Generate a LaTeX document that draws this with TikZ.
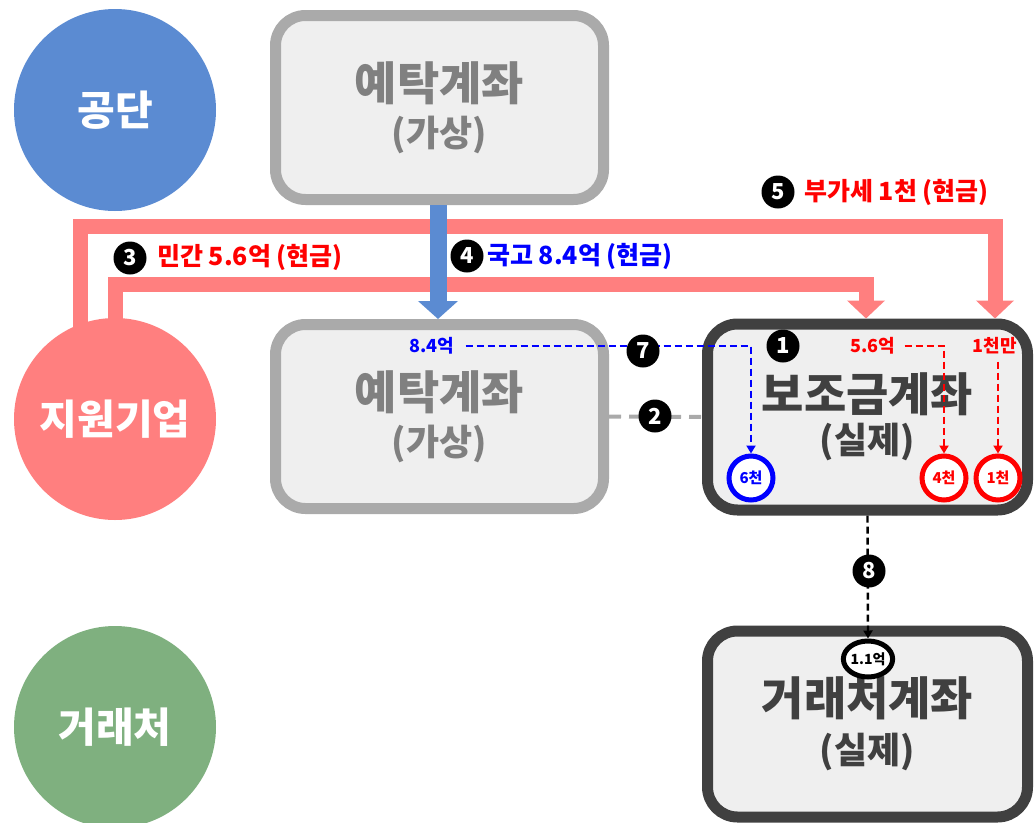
\documentclass[tikz,border=0pt]{standalone}
\usepackage{fontspec}
\setmainfont{Noto Sans CJK KR}[BoldFont={Noto Sans CJK KR Black}]
\usetikzlibrary{arrows.meta,shapes.geometric,calc}
\definecolor{gongdanblue}{RGB}{91,139,210}
\definecolor{jiwonred}{RGB}{255,127,127}
\definecolor{clientgreen}{RGB}{127,176,127}
\definecolor{vborder}{RGB}{170,170,170}
\definecolor{vfill}{RGB}{239,239,239}
\definecolor{vtext}{RGB}{128,128,128}
\definecolor{rdark}{RGB}{64,64,64}
\newcommand{\acctsub}{\fontsize{36}{38}\selectfont\bfseries}

\begin{document}
\begin{tikzpicture}[x=1pt,y=-1pt,
    party/.style={circle,minimum size=202pt,inner sep=0pt,text=white,
        font=\fontsize{41}{44}\selectfont\bfseries},
    vbox/.style={draw=vborder,line width=11pt,fill=vfill,rounded corners=30pt,
        minimum width=328pt,minimum height=184pt,text=vtext,align=center,
        font=\fontsize{46}{52}\selectfont\bfseries},
    rbox/.style={draw=rdark,line width=11pt,fill=vfill,rounded corners=30pt,
        minimum width=320pt,minimum height=186pt,text=rdark,align=center,
        font=\fontsize{46}{52}\selectfont\bfseries},
    badge/.style={circle,fill=black,text=white,minimum size=33pt,inner sep=0pt,
        font=\fontsize{22}{22}\selectfont\bfseries},
    flowlabel/.style={anchor=west,inner sep=0pt,font=\fontsize{25}{26}\selectfont\bfseries},
    amount/.style={inner sep=1pt,font=\fontsize{18}{18}\selectfont\bfseries},
    coin/.style={circle,line width=5pt,fill=white,minimum size=44pt,inner sep=0pt,
        font=\fontsize{15}{15}\selectfont\bfseries},
    cashline/.style={draw=jiwonred,line width=15pt,-{Triangle[width=37pt,length=18pt]}},
    fundline/.style={draw=gongdanblue,line width=17pt,-{Triangle[width=39pt,length=18pt]}},
    trace/.style={line width=2.4pt,dash pattern=on 7pt off 4pt,-{Triangle[width=9pt,length=8pt]}}]

\useasboundingbox (0,0) rectangle (1036,822);

% parties
\node[party,fill=gongdanblue] (gongdan) at (115,110) {공단};
\node[party,fill=jiwonred] (jiwon) at (115,419) {지원기업};
\node[party,fill=clientgreen] (client) at (115,727) {거래처};

% accounts
\node[vbox] (yetakTop) at (439.5,107.5) {\raisebox{-4pt}{예탁계좌}\\[-2pt]{\acctsub(가상)}};
\node[vbox] (yetakMid) at (439.5,416.5) {\raisebox{-4pt}{예탁계좌}\\[-2pt]{\acctsub(가상)}};
\node[rbox] (bojo) at (867.5,417) {\raisebox{-6pt}{보조금계좌}\\[-4pt]{\acctsub(실제)}};
\node[rbox] (clientAcc) at (867.5,724) {거래처계좌\\[-4pt]{\acctsub(실제)}};

% cash flows
\coordinate (vatTurn) at (995,226);
\coordinate (privTurn) at (866,284);
\coordinate (govLane) at (438,0);
\draw[cashline] ($(jiwon.110)+(0,6)$) |- (vatTurn) -- (vatTurn |- bojo.north);
\draw[cashline] ($(jiwon.north)+(0,6)$) |- (privTurn) -- (privTurn |- bojo.north);
\draw[fundline] (yetakTop.south -| govLane) -- (yetakMid.north -| govLane);

\node[badge] (num3) at (130,258) {3};
\node[flowlabel,text=red] (lblPrivate) at (157,257) {민간 5.6억 (현금)};
\node[badge] (num4) at (467,256) {4};
\node[flowlabel,text=blue] (lblGov) at (487,256) {국고 8.4억 (현금)};
\node[badge] (num5) at (778,192) {5};
\node[flowlabel,text=red] (lblVat) at (804,192) {부가세 1천 (현금)};

% inside the subsidy account
\node[coin,draw=blue,text=blue] (coin6) at (751,478) {6천};
\node[coin,draw=red,text=red] (coin4) at (944,478) {4천};
\node[coin,draw=red,text=red] (coin1) at (998,478) {1천};
\node[amount,text=blue] (amt84) at (432,346) {8.4억};
\node[amount,text=red] (amt56) at (873,346) {5.6억};
\node[amount,text=red] (amt1m) at (995,346) {1천만};
\node[badge] (num1) at (783,346) {1};

\draw[trace,blue] (amt84.east) ++(10,0) -| (coin6.north);
\draw[trace,red] (amt56.east) ++(8,0) -| (coin4.north);
\draw[trace,red] (amt1m.south) ++(3,6) -- (coin1.north);
\node[badge] (num7) at (643,351) {7};

\draw[vborder,line width=4pt,dash pattern=on 12pt off 8pt] (yetakMid.east) -- (bojo.west);
\node[badge] (num2) at (655,416) {2};

% payment to client
\node[ellipse,draw=black,line width=5pt,fill=white,minimum width=48pt,minimum height=36pt,
    inner sep=0pt,font=\fontsize{14}{15}\selectfont\bfseries] (pay11) at (868,659) {1.1억};
\draw[trace,black] (bojo.south) -- (pay11.north);
\node[badge] (num8) at (869,571) {8};
\end{tikzpicture}
\end{document}
